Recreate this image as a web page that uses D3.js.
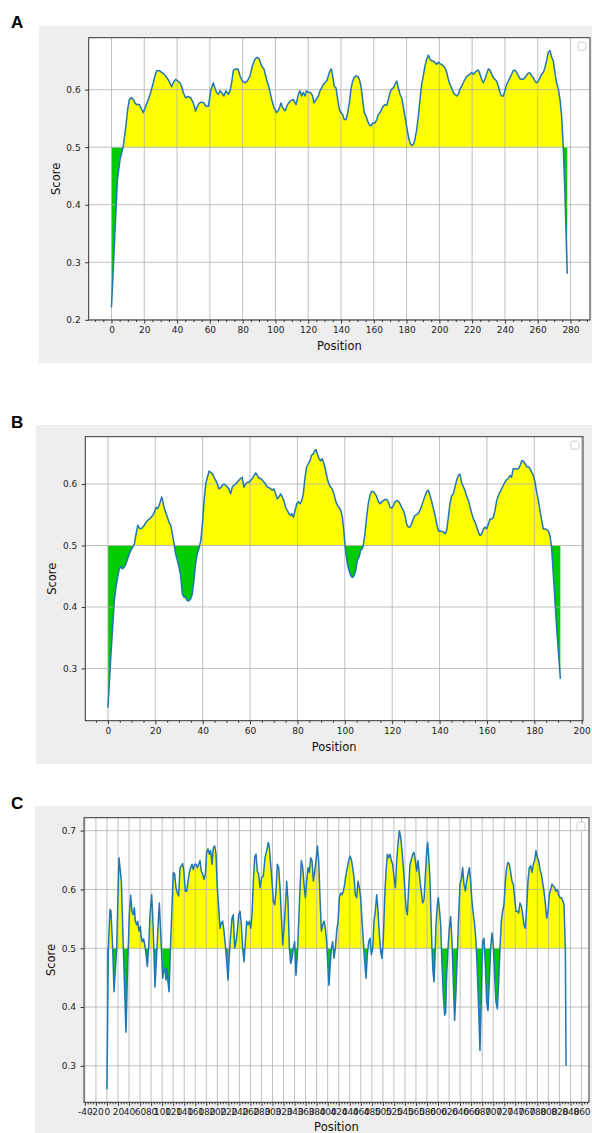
<!DOCTYPE html>
<html><head><meta charset="utf-8">
<script src="https://cdn.jsdelivr.net/npm/d3@7"></script>
<style>
body{margin:0;background:#fff}
svg{display:block}
text{font-family:"DejaVu Sans",sans-serif}
</style>
</head><body>
<svg id="chart" width="592" height="1133"></svg>
<script>
// ---------- DATA (position, score) ----------
const seriesA = [[0,0.222],[2.1,0.350],[3.6,0.443],[5.2,0.478],[7.2,0.502],[8.8,0.537],[9.9,0.566],[10.9,0.583],[12.3,0.586],[13.3,0.583],[14.3,0.577],[15.4,0.574],[17,0.574],[18.4,0.566],[19.4,0.560],[20.8,0.571],[22.5,0.583],[23.9,0.595],[25.5,0.612],[26.5,0.624],[27.6,0.633],[29.2,0.633],[30.6,0.630],[32,0.627],[33.7,0.621],[35.1,0.615],[36.7,0.605],[37.7,0.612],[39.1,0.618],[40.4,0.615],[41.8,0.612],[42.8,0.606],[43.8,0.595],[45.2,0.586],[46.9,0.588],[48.3,0.586],[49.9,0.577],[51.3,0.563],[52.4,0.571],[53.6,0.577],[55,0.578],[56.4,0.577],[57.6,0.571],[59.1,0.571],[60.5,0.598],[62.1,0.612],[63.1,0.603],[64.1,0.595],[65.2,0.592],[66.2,0.598],[67.2,0.595],[68.6,0.589],[69.8,0.598],[71.3,0.592],[72.3,0.598],[73.3,0.612],[74.3,0.633],[75.7,0.636],[77.2,0.636],[78.4,0.624],[79.8,0.615],[81.4,0.612],[82.9,0.615],[84.5,0.624],[85.9,0.641],[87.5,0.653],[88.9,0.656],[90.2,0.653],[91.6,0.641],[93,0.636],[94.6,0.618],[96.3,0.601],[97.7,0.583],[99.1,0.569],[100.7,0.560],[102.2,0.566],[103.4,0.577],[104.4,0.569],[105.8,0.563],[107.2,0.573],[108.9,0.580],[110.9,0.583],[112.6,0.574],[114,0.592],[115,0.598],[116,0.589],[117,0.595],[118,0.589],[119,0.598],[120.1,0.595],[121.5,0.595],[122.7,0.589],[123.5,0.577],[124.8,0.583],[126.2,0.589],[127.2,0.598],[128.2,0.603],[129.2,0.609],[130.2,0.612],[131.3,0.615],[132.3,0.624],[133.3,0.633],[134.1,0.636],[134.9,0.624],[135.9,0.606],[137,0.603],[138,0.583],[139,0.566],[140,0.560],[141,0.557],[142,0.548],[143.1,0.548],[144.1,0.560],[145.1,0.577],[146.1,0.601],[147.1,0.615],[148.1,0.621],[149.2,0.624],[150.2,0.623],[151.2,0.618],[152.2,0.606],[153.2,0.583],[154.2,0.560],[155.3,0.554],[156.3,0.545],[157.3,0.539],[158.3,0.537],[159.3,0.542],[160.7,0.542],[161.8,0.548],[162.8,0.557],[163.8,0.560],[164.8,0.566],[165.8,0.571],[166.8,0.574],[167.9,0.573],[168.9,0.583],[169.9,0.595],[170.9,0.601],[171.9,0.603],[172.9,0.609],[174,0.615],[175,0.603],[176,0.592],[177,0.586],[178,0.571],[179,0.554],[180,0.537],[181.1,0.519],[182.1,0.507],[183.1,0.503],[184.1,0.505],[185.1,0.513],[186.2,0.531],[187.2,0.554],[188.2,0.583],[189.2,0.609],[190.2,0.624],[191.2,0.641],[192.3,0.653],[193.3,0.660],[194.3,0.653],[195.3,0.650],[196.3,0.650],[197.3,0.647],[198.4,0.644],[199.4,0.648],[200.4,0.645],[201.4,0.644],[202.4,0.641],[203.4,0.638],[204.5,0.630],[205.5,0.618],[206.5,0.609],[207.5,0.603],[208.5,0.595],[209.5,0.592],[210.6,0.589],[211.6,0.592],[212.6,0.601],[213.6,0.606],[214.6,0.612],[215.6,0.618],[216.7,0.623],[217.7,0.625],[218.7,0.627],[219.7,0.630],[220.7,0.627],[221.7,0.630],[222.7,0.633],[223.8,0.634],[224.8,0.627],[225.8,0.618],[226.8,0.612],[227.8,0.618],[228.8,0.627],[229.9,0.636],[230.9,0.634],[231.9,0.627],[232.9,0.621],[233.9,0.618],[234.9,0.615],[236,0.606],[237,0.595],[238,0.589],[239,0.589],[240,0.598],[241,0.609],[242.1,0.615],[243.1,0.621],[244.1,0.627],[245.1,0.633],[246.1,0.634],[247.1,0.630],[248.2,0.624],[249.2,0.619],[250.2,0.618],[251.2,0.618],[252.2,0.621],[253.2,0.625],[254.3,0.629],[255.3,0.629],[256.3,0.624],[257.3,0.621],[258.3,0.615],[259.3,0.612],[260.4,0.615],[261.4,0.621],[262.4,0.627],[263.4,0.630],[264.4,0.638],[265.4,0.650],[266.5,0.665],[267.5,0.668],[268.5,0.656],[269.5,0.650],[270.5,0.630],[271.5,0.612],[272.6,0.601],[273.6,0.583],[274.6,0.554],[275.6,0.500],[276.6,0.420],[278,0.280]];

const seriesB = [[0,0.236],[0.6,0.275],[1.3,0.324],[2.0,0.367],[2.7,0.410],[3.4,0.432],[4.1,0.448],[4.8,0.462],[5.5,0.465],[6.2,0.462],[6.9,0.465],[7.6,0.470],[8.3,0.478],[9.0,0.486],[9.7,0.492],[10.4,0.497],[11.2,0.503],[11.9,0.519],[12.6,0.533],[13.3,0.528],[14.0,0.527],[14.7,0.530],[15.4,0.533],[16.1,0.538],[16.8,0.541],[17.5,0.543],[18.2,0.546],[18.9,0.549],[19.6,0.554],[20.3,0.562],[20.9,0.560],[21.6,0.565],[22.1,0.571],[22.7,0.579],[23.1,0.573],[23.7,0.562],[24.4,0.554],[25.1,0.546],[25.8,0.538],[26.5,0.533],[27.2,0.519],[27.9,0.503],[28.6,0.486],[29.3,0.476],[30.0,0.465],[30.7,0.451],[31.4,0.421],[32.1,0.416],[32.8,0.416],[33.5,0.410],[34.2,0.410],[34.9,0.413],[35.6,0.421],[36.3,0.443],[37.0,0.470],[37.7,0.486],[38.4,0.495],[39.2,0.508],[39.9,0.535],[40.6,0.573],[41.3,0.600],[42.0,0.611],[42.7,0.621],[43.4,0.619],[44.1,0.617],[44.8,0.611],[45.5,0.606],[46.2,0.600],[46.9,0.592],[47.6,0.594],[48.3,0.598],[49.0,0.600],[49.7,0.598],[50.4,0.595],[51.1,0.592],[51.8,0.584],[52.5,0.595],[53.2,0.598],[53.9,0.600],[54.6,0.603],[55.3,0.606],[56.0,0.609],[56.7,0.611],[57.4,0.595],[58.1,0.600],[58.9,0.603],[59.6,0.603],[60.3,0.606],[61.0,0.609],[61.7,0.614],[62.4,0.618],[63.1,0.614],[63.8,0.609],[64.5,0.609],[65.2,0.606],[65.9,0.603],[66.6,0.600],[67.3,0.595],[68.0,0.594],[68.7,0.592],[69.4,0.590],[70.1,0.592],[70.8,0.584],[71.5,0.576],[72.2,0.579],[72.9,0.584],[73.6,0.579],[74.3,0.573],[75.0,0.562],[75.7,0.557],[76.4,0.552],[77.1,0.549],[77.6,0.552],[78.3,0.546],[79.0,0.557],[79.7,0.568],[80.4,0.571],[81.1,0.568],[81.8,0.573],[82.5,0.584],[83.2,0.611],[83.9,0.628],[84.6,0.633],[85.3,0.638],[86.0,0.647],[86.7,0.649],[87.4,0.655],[87.8,0.656],[88.4,0.649],[89.1,0.641],[89.8,0.638],[90.5,0.641],[91.2,0.633],[91.9,0.622],[92.6,0.609],[93.3,0.600],[94.0,0.595],[94.7,0.592],[95.4,0.584],[96.1,0.573],[96.9,0.565],[97.6,0.562],[98.3,0.557],[99.0,0.546],[99.7,0.519],[100.1,0.500],[100.5,0.486],[101.1,0.470],[101.8,0.459],[102.5,0.451],[103.2,0.448],[103.9,0.451],[104.6,0.459],[105.3,0.476],[106.0,0.481],[106.7,0.492],[107.4,0.495],[107.8,0.500],[108.5,0.519],[109.2,0.546],[109.9,0.568],[110.6,0.581],[111.3,0.588],[112.0,0.588],[112.8,0.584],[113.5,0.579],[114.2,0.571],[114.9,0.568],[115.6,0.571],[116.3,0.573],[117.0,0.575],[117.7,0.575],[118.4,0.571],[119.1,0.562],[119.8,0.561],[120.5,0.565],[121.2,0.571],[121.9,0.573],[122.6,0.572],[123.3,0.568],[124.0,0.562],[124.7,0.557],[125.4,0.549],[126.1,0.535],[126.8,0.530],[127.5,0.530],[128.2,0.535],[128.9,0.543],[129.6,0.549],[130.3,0.550],[131.0,0.552],[131.7,0.557],[132.5,0.565],[133.2,0.573],[133.9,0.581],[134.6,0.588],[135.3,0.590],[136.0,0.581],[136.7,0.571],[137.4,0.560],[138.1,0.549],[138.8,0.535],[139.5,0.524],[140.2,0.523],[140.9,0.523],[141.6,0.522],[142.3,0.519],[143.0,0.524],[143.7,0.546],[144.4,0.568],[145.1,0.581],[145.8,0.584],[146.5,0.595],[147.2,0.606],[147.9,0.614],[148.6,0.616],[149.3,0.603],[150.0,0.596],[150.7,0.590],[151.4,0.581],[152.2,0.573],[152.9,0.562],[153.6,0.552],[154.3,0.543],[155.0,0.538],[155.7,0.530],[156.4,0.522],[157.1,0.516],[157.8,0.519],[158.5,0.527],[159.2,0.530],[159.9,0.527],[160.6,0.535],[161.3,0.543],[162.0,0.543],[162.7,0.546],[163.4,0.557],[164.1,0.573],[164.8,0.581],[165.5,0.587],[166.2,0.592],[166.9,0.598],[167.6,0.603],[168.3,0.607],[169.0,0.609],[169.7,0.614],[170.4,0.611],[171.1,0.625],[171.9,0.625],[172.6,0.624],[173.3,0.625],[174.0,0.630],[174.7,0.638],[175.4,0.637],[176.1,0.633],[176.8,0.628],[177.5,0.628],[178.2,0.625],[178.9,0.619],[179.6,0.614],[180.3,0.603],[181.0,0.587],[181.7,0.573],[182.4,0.557],[183.1,0.541],[183.8,0.527],[184.5,0.527],[185.2,0.526],[185.9,0.524],[186.6,0.516],[187.3,0.497],[188.0,0.454],[189.4,0.367],[191,0.283]];

const seriesC = [[0,0.26],[2.5,0.50],[5.5,0.566],[7.3,0.563],[10.4,0.50],[12.8,0.426],[17.6,0.50],[21.8,0.654],[23.6,0.637],[26.1,0.614],[27.9,0.557],[29.7,0.50],[32.7,0.409],[34.5,0.357],[37.5,0.471],[40.6,0.557],[43,0.590],[45.4,0.563],[47.8,0.557],[49.6,0.569],[51.4,0.546],[53.9,0.540],[55.7,0.546],[58.1,0.529],[60.5,0.537],[62.3,0.517],[64.1,0.511],[66.5,0.516],[69,0.503],[70.8,0.489],[73.2,0.469],[75.6,0.50],[78,0.557],[81,0.591],[82.8,0.557],[84.7,0.506],[87.1,0.434],[90.1,0.489],[93.1,0.546],[94.9,0.577],[96.7,0.540],[99.2,0.489],[101,0.449],[102.8,0.460],[105.2,0.466],[107,0.446],[108.8,0.466],[110.6,0.443],[112.5,0.426],[115.5,0.511],[118.5,0.586],[120.3,0.629],[122.7,0.626],[125.1,0.603],[127.6,0.594],[130,0.589],[132.4,0.637],[134.8,0.640],[137.2,0.644],[139.6,0.629],[142,0.597],[144.5,0.597],[146.9,0.614],[149.3,0.629],[151.7,0.637],[154.1,0.643],[156.5,0.634],[159,0.643],[161.4,0.643],[163.8,0.637],[166.2,0.643],[168.6,0.649],[171,0.631],[173.5,0.626],[175.9,0.617],[178.3,0.626],[180.7,0.663],[183.1,0.669],[185.5,0.660],[188,0.666],[190.4,0.643],[192.8,0.671],[195.2,0.674],[197.6,0.660],[200,0.603],[202.5,0.569],[204.9,0.534],[207.3,0.543],[209.7,0.546],[212.1,0.529],[214.5,0.506],[217,0.477],[219.4,0.446],[221.8,0.489],[224.2,0.523],[226.6,0.551],[229,0.557],[231.5,0.50],[233.9,0.511],[236.3,0.529],[238.7,0.557],[241.1,0.563],[243.5,0.540],[245.9,0.50],[248.4,0.477],[250.8,0.511],[253.2,0.546],[255.6,0.540],[258,0.546],[260.5,0.534],[262.9,0.557],[265.3,0.614],[267.7,0.654],[270.1,0.660],[272.5,0.631],[275,0.626],
[277.4,0.603],[280.4,0.620],[283.4,0.623],[286.5,0.654],[289.5,0.666],[292.5,0.680],[294.3,0.671],[296.7,0.643],[299.1,0.614],[301.6,0.580],[304,0.574],[306.4,0.597],[308.8,0.643],[311.2,0.637],[313.6,0.603],[316,0.557],[318.5,0.506],[320.9,0.534],[323.3,0.569],[325.7,0.614],[328.1,0.580],[330.6,0.50],[333,0.474],[335.4,0.483],[337.8,0.50],[340.2,0.511],[342.6,0.454],[345.1,0.489],[347.5,0.546],[349.9,0.603],[352.3,0.649],[354.7,0.637],[357.1,0.609],[359.6,0.586],[362,0.614],[364.4,0.637],[366.8,0.629],[369.2,0.654],[371.6,0.649],[374.1,0.614],[376.5,0.631],[378.9,0.649],[381.3,0.674],[383.7,0.649],[386.1,0.586],[388.6,0.529],[391,0.540],[393.4,0.546],[395.8,0.534],[398.2,0.511],[400.6,0.466],[402.4,0.437],[404.3,0.466],[406.7,0.50],[409.1,0.511],[411.5,0.483],[413.9,0.50],[416.3,0.529],[418.8,0.546],[421.2,0.586],[423.6,0.594],[426,0.591],[428.4,0.597],[430.8,0.609],[433.3,0.626],[435.7,0.637],[438.1,0.649],[440.5,0.657],[442.9,0.651],[445.3,0.637],[447.8,0.620],[450.2,0.591],[452.6,0.586],[455,0.614],[457.4,0.603],[459.8,0.586],[462.3,0.546],[464.7,0.511],[467.1,0.477],[469.5,0.449],[471.9,0.489],[474.3,0.511],[476.8,0.517],[479.2,0.489],[481.6,0.50],[484,0.546],[486.4,0.563],[488.8,0.591],[491.3,0.563],[493.7,0.523],[496.1,0.494],[498.5,0.483],[500.9,0.517],[503.3,0.586],[505.8,0.631],[508.2,0.660],[510.6,0.654],[513,0.660],[515.4,0.649],[517.8,0.643],[520.3,0.620],[522.7,0.603],[525.1,0.649],[527.5,0.677],[529.9,0.700],[532.3,0.689],[534.7,0.666],[537.2,0.637],[539.6,0.603],[542,0.569],[544.4,0.557],[546.8,0.603],[549.2,0.643],[551.7,0.651],[554.1,0.660],[556.5,0.663],[558.9,0.649],[561.3,0.631],[563.7,0.649],
[567.3,0.614],[570.3,0.591],[572.1,0.577],[574.6,0.583],[577,0.623],[579.4,0.663],[581.2,0.680],[583,0.657],[585.4,0.617],[587.2,0.557],[589,0.50],[590.9,0.460],[592.7,0.443],[594.5,0.483],[596.3,0.540],[598.7,0.574],[600.5,0.586],[602.3,0.569],[604.8,0.540],[607.2,0.471],[609.6,0.420],[612,0.386],[613.8,0.391],[615.6,0.454],[618.1,0.50],[620.5,0.534],[622.9,0.554],[625.3,0.511],[627.7,0.443],[630.1,0.377],[632.5,0.426],[635,0.489],[637.4,0.557],[639.8,0.609],[642.2,0.617],[644.6,0.637],[647,0.609],[649.5,0.597],[651.9,0.614],[654.3,0.626],[656.7,0.637],[659.1,0.614],[661.5,0.580],[664,0.557],[666.4,0.540],[668.8,0.511],[671.2,0.460],[673.6,0.397],[676,0.326],[678.5,0.420],[680.9,0.511],[683.3,0.517],[685.7,0.471],[688.1,0.409],[690.5,0.394],[692.9,0.443],[695.4,0.50],[697.8,0.526],[700.2,0.506],[702.6,0.454],[705,0.409],[707.5,0.397],[709.9,0.443],[712.3,0.50],[714.7,0.546],[717.1,0.563],[719.5,0.574],[722,0.614],[724.4,0.637],[726.8,0.646],[729.2,0.643],[731.6,0.629],[734,0.614],[736.5,0.609],[738.9,0.586],[741.3,0.563],[743.7,0.563],[746.1,0.560],[748.5,0.577],[751,0.571],[753.4,0.557],[755.8,0.540],[758.2,0.534],[760.6,0.569],[763,0.614],[765.4,0.637],[767.9,0.640],[770.3,0.629],[772.7,0.643],[775.1,0.649],[777.5,0.666],[779.9,0.654],[782.4,0.649],[784.8,0.634],[787.2,0.626],[789.6,0.611],[792,0.597],[794.4,0.577],[796.9,0.551],[799.3,0.563],[801.7,0.591],[804.1,0.600],[806.5,0.609],[808.9,0.606],[811.4,0.603],[813.8,0.597],[816.2,0.600],[818.6,0.591],[821,0.586],[823.5,0.586],[825.9,0.581],[828.3,0.574],[830.7,0.50],[832,0.30]];

const xTicksA = [0,20,40,60,80,100,120,140,160,180,200,220,240,260,280];
const yTicksA = [0.2,0.3,0.4,0.5,0.6];
const xTicksB = [0,20,40,60,80,100,120,140,160,180,200];
const yTicksB = [0.3,0.4,0.5,0.6];
const xTicksC = [-40,-20,0,20,40,60,80,100,120,140,160,180,200,220,240,260,280,300,320,340,360,380,400,420,440,460,480,500,520,540,560,580,600,620,640,660,680,700,720,740,760,780,800,820,840,860];
const yTicksC = [0.3,0.4,0.5,0.6,0.7];
const panelLabels = ["A","B","C"];
const threshold = 0.5;

// ---------- LAYOUT ----------
const layout = [
  {bg:[39,26,592,363],   box:[88.7,37.7,590,320],   lab:[11,27.5],  yl:56},
  {bg:[36,425,592,764],  box:[85.3,436.7,583,720.7], lab:[11,427.5], yl:52},
  {bg:[35,806,592,1133], box:[84,817.7,589,1102.3], lab:[11,808.5], yl:51}
];
const seriesList = [seriesA, seriesB, seriesC];
const xTickList = [xTicksA, xTicksB, xTicksC];
const yTickList = [yTicksA, yTicksB, yTicksC];

const svg = d3.select("#chart");
const defs = svg.append("defs");
const intFmt = v => String(Math.round(v)); // plain hyphen-minus like the reference

seriesList.forEach((data, i) => {
  const L = layout[i];
  const [bx0, by0, bx1, by1] = L.bg;
  const [l, t, r, b] = L.box;

  svg.append("rect").attr("x", bx0).attr("y", by0)
    .attr("width", bx1 - bx0).attr("height", by1 - by0).attr("fill", "#eeeeee");
  svg.append("rect").attr("x", l).attr("y", t)
    .attr("width", r - l).attr("height", b - t).attr("fill", "#ffffff");

  const xe = d3.extent(data, d => d[0]);
  const ye = d3.extent(data, d => d[1]);
  const xp = (xe[1] - xe[0]) * 0.05, yp = (ye[1] - ye[0]) * 0.05;
  const x = d3.scaleLinear().domain([xe[0] - xp, xe[1] + xp]).range([l, r]);
  const y = d3.scaleLinear().domain([ye[0] - yp, ye[1] + yp]).range([b, t]);
  const yT = y(threshold);

  defs.append("clipPath").attr("id", "above" + i)
    .append("rect").attr("x", l).attr("y", t).attr("width", r - l).attr("height", yT - t);
  defs.append("clipPath").attr("id", "below" + i)
    .append("rect").attr("x", l).attr("y", yT).attr("width", r - l).attr("height", b - yT);

  const area = d3.area().x(d => x(d[0])).y0(yT).y1(d => y(d[1]));
  svg.append("path").attr("d", area(data)).attr("fill", "#ffff00")
    .attr("clip-path", `url(#above${i})`);
  svg.append("path").attr("d", area(data)).attr("fill", "#00cc00")
    .attr("clip-path", `url(#below${i})`);

  // grid
  const g = svg.append("g");
  xTickList[i].filter(v => v >= x.domain()[0] && v <= x.domain()[1]).forEach(v => {
    g.append("line").attr("x1", x(v)).attr("x2", x(v)).attr("y1", t).attr("y2", b)
      .attr("stroke", "#b0b0b0").attr("stroke-width", 0.8);
  });
  yTickList[i].forEach(v => {
    g.append("line").attr("x1", l).attr("x2", r).attr("y1", y(v)).attr("y2", y(v))
      .attr("stroke", "#b0b0b0").attr("stroke-width", 0.8);
  });

  // line
  const line = d3.line().x(d => x(d[0])).y(d => y(d[1]));
  svg.append("path").attr("d", line(data)).attr("fill", "none")
    .attr("stroke", "#1f77b4").attr("stroke-width", 1.5).attr("stroke-linejoin", "round");

  // axes
  const dom = x.domain();
  const minor = d3.range(Math.ceil(dom[0] / 5) * 5, dom[1], 5).filter(v => v % 20 !== 0);
  const gm = svg.append("g").attr("transform", `translate(0,${b})`)
    .call(d3.axisBottom(x).tickValues(minor).tickSize(2).tickFormat(""));
  const gx = svg.append("g").attr("transform", `translate(0,${b})`)
    .call(d3.axisBottom(x).tickValues(xTickList[i]).tickSize(3.5).tickPadding(3)
      .tickFormat(intFmt));
  const gy = svg.append("g").attr("transform", `translate(${l},0)`)
    .call(d3.axisLeft(y).tickValues(yTickList[i]).tickSize(3.5).tickPadding(4.5)
      .tickFormat(d3.format(".1f")));
  [gm, gx, gy].forEach(ax => {
    ax.select(".domain").remove();
    ax.selectAll("line").attr("stroke", "#333");
    ax.selectAll("text").attr("fill", "#222").style("font-size", "9px")
      .style("font-family", "'DejaVu Sans', sans-serif");
  });

  // frame
  svg.append("rect").attr("x", l).attr("y", t).attr("width", r - l).attr("height", b - t)
    .attr("fill", "none").attr("stroke", "#333").attr("stroke-width", 1);

  // empty legend box
  svg.append("rect").attr("x", r - 12).attr("y", t + 4.5).attr("width", 8).attr("height", 8)
    .attr("rx", 1.5).attr("fill", "#fff").attr("stroke", "#cfcfcf").attr("stroke-width", 1);

  // axis labels
  svg.append("text").attr("x", (l + r) / 2).attr("y", Math.min(b + 30, 1131))
    .attr("text-anchor", "middle").attr("fill", "#111").style("font-size", "11.5px").text("Position");
  svg.append("text").attr("transform", `translate(${L.yl + 4},${(t + b) / 2}) rotate(-90)`)
    .attr("text-anchor", "middle").attr("fill", "#111").style("font-size", "11.5px").text("Score");

  // panel letter
  svg.append("text").attr("x", L.lab[0]).attr("y", L.lab[1])
    .style("font-family", "'Liberation Sans', Arial, sans-serif").style("font-weight", "bold")
    .style("font-size", "17px").attr("fill", "#000").text(panelLabels[i]);
});
</script>
</body></html>
